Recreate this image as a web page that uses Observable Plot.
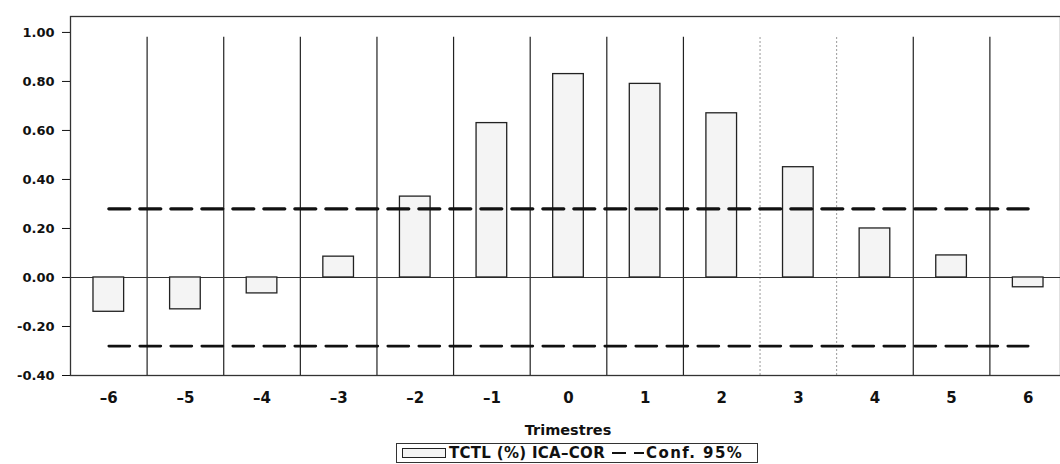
<!DOCTYPE html>
<html>
<head>
<meta charset="utf-8">
<script src="https://cdn.jsdelivr.net/npm/d3@7"></script>
<script src="https://cdn.jsdelivr.net/npm/@observablehq/plot@0.6"></script>
<style>
  html, body { margin: 0; padding: 0; background: #fff; }
  #wrap { position: relative; width: 1060px; height: 464px; overflow: hidden; font-family: "DejaVu Sans", Verdana, sans-serif; color: #111; }
  #xlabel { position: absolute; left: 0; width: 1136px; top: 421px; text-align: center; font-weight: bold; font-size: 14.5px; line-height: 18px; }
  #legend { position: absolute; left: 396px; top: 443px; width: 362px; height: 20px; border: 1px solid #333; box-sizing: border-box; display: flex; align-items: center; font-weight: bold; font-size: 15px; white-space: nowrap; }
  .sw { display: inline-block; width: 42px; height: 8px; border: 1px solid #222; background: #f4f4f4; margin-left: 5px; margin-right: 3px; }
  g[aria-label^="x-axis"] text { font-size: 15px; }
</style>
</head>
<body>
<div id="wrap">
  <div id="chart"></div>
  <div id="xlabel">Trimestres</div>
  <div id="legend"><span class="sw"></span><span style="letter-spacing:0.3px">TCTL (%) ICA–COR</span><svg width="32" height="10" style="margin:0 2px 0 7px"><line x1="0" y1="5" x2="32" y2="5" stroke="#111" stroke-width="2" stroke-dasharray="14,8"></line></svg><span style="letter-spacing:1.4px">Conf. 95%</span></div>
</div>
<script>
// Data
const quarters = [-6, -5, -4, -3, -2, -1, 0, 1, 2, 3, 4, 5, 6];
const quarterLabels = ["–6", "–5", "–4", "–3", "–2", "–1", "0", "1", "2", "3", "4", "5", "6"];
const tctl = [-0.14, -0.13, -0.065, 0.085, 0.33, 0.63, 0.83, 0.79, 0.67, 0.45, 0.20, 0.09, -0.04];
const confUpper = [0.28, 0.28, 0.28, 0.28, 0.28, 0.28, 0.28, 0.28, 0.28, 0.28, 0.28, 0.28, 0.28];
const confLower = [-0.28, -0.28, -0.28, -0.28, -0.28, -0.28, -0.28, -0.28, -0.28, -0.28, -0.28, -0.28, -0.28];
const yTicks = [-0.4, -0.2, 0, 0.2, 0.4, 0.6, 0.8, 1.0];
const solidBoundaries = [-5.5, -4.5, -3.5, -2.5, -1.5, -0.5, 0.5, 1.5, 4.5, 5.5];
const dottedBoundaries = [2.5, 3.5];

const rows = quarters.map((q, i) => ({q, v: tctl[i], up: confUpper[i], lo: confLower[i]}));
const halfBar = 0.2;
const gridTop = 0.98;

const chart = Plot.plot({
  width: 1060,
  height: 412,
  marginLeft: 70,
  marginRight: 0,
  marginTop: 16,
  marginBottom: 37,
  style: {fontFamily: "DejaVu Sans, Verdana, sans-serif", fontSize: "13px", fontWeight: "bold", color: "#111", background: "#fff"},
  x: {domain: [-6.5, 6.5], range: [70, 1066], ticks: quarters, tickFormat: d => quarterLabels[quarters.indexOf(d)], tickSize: 0, tickPadding: 17, label: null},
  y: {domain: [-0.4, 1.065], ticks: yTicks, tickFormat: d => d.toFixed(2), tickSize: 8, tickPadding: 8, label: null},
  marks: [
    Plot.ruleX(solidBoundaries, {x: d => d, y1: -0.4, y2: gridTop, stroke: "#222", strokeWidth: 1.2}),
    Plot.ruleX(dottedBoundaries, {x: d => d, y1: -0.4, y2: gridTop, stroke: "#999", strokeWidth: 1, strokeDasharray: "2,2"}),
    Plot.ruleY([0], {stroke: "#333", strokeWidth: 1.2}),
    Plot.rect(rows, {x1: d => d.q - halfBar, x2: d => d.q + halfBar, y1: 0, y2: "v", fill: "#f4f4f4", stroke: "#222", strokeWidth: 1.3}),
    Plot.line(rows, {x: "q", y: "up", stroke: "#111", strokeWidth: 3.2, strokeDasharray: "21,10"}),
    Plot.line(rows, {x: "q", y: "lo", stroke: "#111", strokeWidth: 2.7, strokeDasharray: "21,10"}),
    Plot.frame({stroke: "#333", strokeWidth: 1.3})
  ]
});
document.getElementById("chart").appendChild(chart);
</script>
</body>
</html>
